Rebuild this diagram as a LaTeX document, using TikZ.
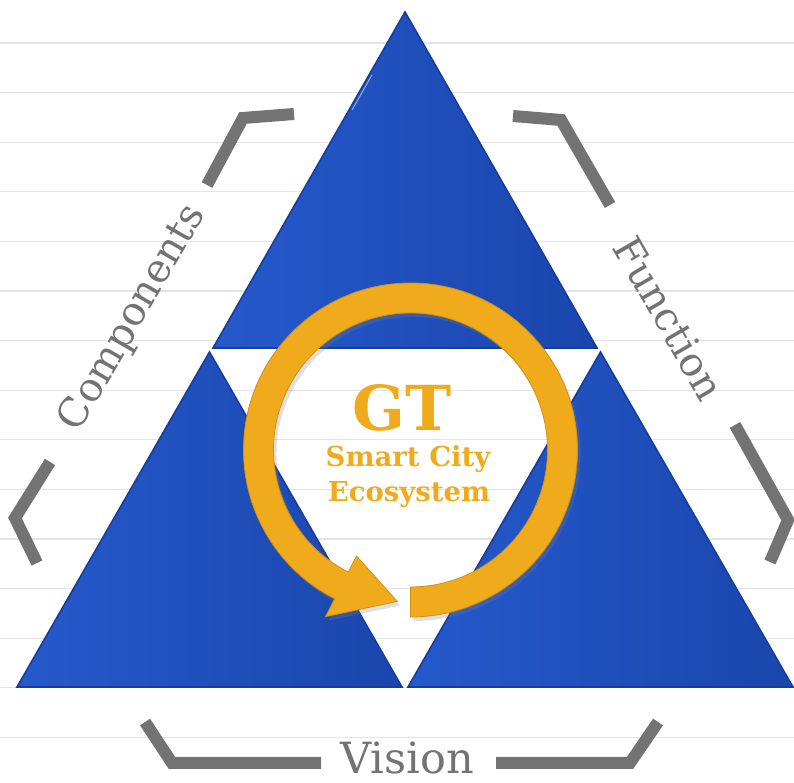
\documentclass[tikz,border=0pt]{standalone}
\usepackage{fontspec}
\setmainfont{DejaVu Serif}
\definecolor{blueL}{HTML}{2659CC}
\definecolor{blueR}{HTML}{1A46AC}
\definecolor{blueE}{HTML}{163D9C}
\definecolor{orng}{HTML}{EFAB1B}
\definecolor{orngE}{HTML}{D0920E}
\definecolor{brk}{HTML}{737373}
\definecolor{bgline}{HTML}{E4E4E4}
\begin{document}
\begin{tikzpicture}[x=1pt,y=1pt,
  tri/.style={left color=blueL, right color=blueR, draw=blueE, line width=1.6pt, line join=miter},
  bracket/.style={draw=brk, line width=12pt, line join=miter, line cap=butt},
  sidelabel/.style={text=brk, inner sep=0pt, font=\fontsize{40}{40}\selectfont},
  centerlabel/.style={text=orng, inner sep=0pt, font=\bfseries\fontsize{27.5}{27.5}\selectfont}]
\useasboundingbox (0,0) rectangle (794,783);
\fill[white] (0,0) rectangle (794,783);
% background lines
\foreach \k in {0,...,14} {
  \draw[bgline, line width=1.2pt] (0,{740-49.6*\k}) -- (794,{740-49.6*\k});
}
% triangles
\draw[tri] (405,771) -- (213,435) -- (597,435) -- cycle;
\draw[tri] (209.5,431) -- (17,96) -- (402,96) -- cycle;
\draw[tri] (600.5,431) -- (408,96) -- (793,96) -- cycle;
% highlight on top triangle
\draw[white, opacity=0.5, line width=1pt] (372,708) -- (352,673);
% ring arrow
\begin{scope}[shift={(410.5,333)}]
  \fill[gray, opacity=0.25, shift={(3,-4)}] (-90:167) arc[start angle=-90, end angle=243, radius=167]
    -- (243:187) -- (265:152) -- (243:119) -- (243:137)
    arc[start angle=243, end angle=-90, radius=137] -- cycle;
  \filldraw[fill=orng, draw=orngE, line width=0.8pt] (-90:167) arc[start angle=-90, end angle=243, radius=167]
    -- (243:187) -- (265:152) -- (243:119) -- (243:137)
    arc[start angle=243, end angle=-90, radius=137] -- cycle;
\end{scope}
% center texts
\node[text=orng, inner sep=0pt, font=\bfseries\fontsize{62}{62}\selectfont] (gt) at (402,375) {GT};
\node[centerlabel] (sc) at (408,324) {Smart City};
\node[centerlabel] (eco) at (409,288) {Ecosystem};
% brackets
\draw[bracket] (207,598) -- (243,665) -- (294,669);
\draw[bracket] (50,321) -- (15,265) -- (37,220);
\draw[bracket] (513,667) -- (561,663) -- (610,578);
\draw[bracket] (735,358) -- (788,263) -- (770,221);
\draw[bracket] (145,61) -- (172,20) -- (321,20);
\draw[bracket] (496,20) -- (630,20) -- (658,61);
% side labels
\node[sidelabel, rotate=60] (comp) at (133,465) {Components};
\node[sidelabel, rotate=-60] (func) at (669,465) {Function};
\node[sidelabel, font=\fontsize{43}{43}\selectfont] (vis) at (407,25) {Vision};
\end{tikzpicture}
\end{document}
